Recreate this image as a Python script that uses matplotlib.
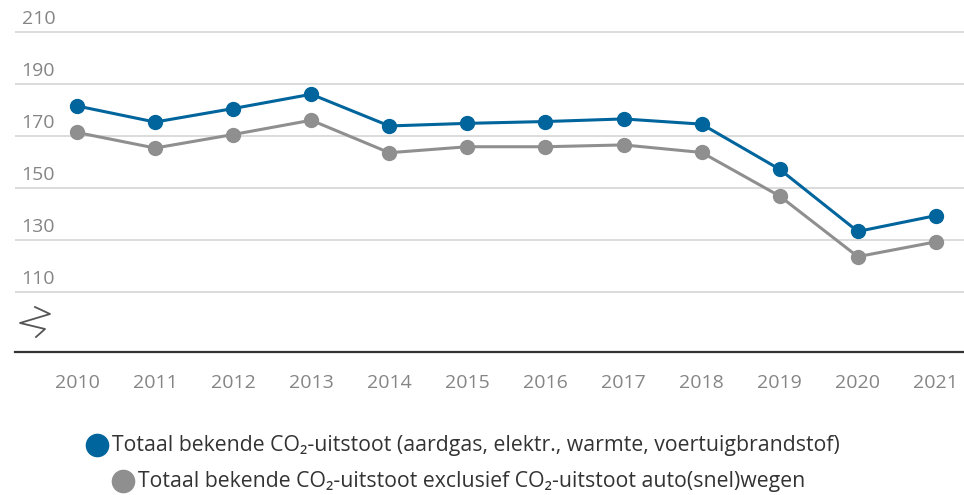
import matplotlib.pyplot as plt
from matplotlib.lines import Line2D
from matplotlib.transforms import blended_transform_factory, offset_copy

plt.rcParams["font.family"] = ["Open Sans", "DejaVu Sans"]

years = [2010, 2011, 2012, 2013, 2014, 2015, 2016, 2017, 2018, 2019, 2020, 2021]
totaal = [181.5, 175.3, 180.5, 186.0, 173.8, 174.8, 175.5, 176.5, 174.5, 157.1, 133.2, 139.3]
exclusief = [171.3, 165.3, 170.5, 176.0, 163.5, 165.8, 165.8, 166.5, 163.6, 146.8, 123.5, 129.2]
y_ticks = [110, 130, 150, 170, 190, 210]

labels = [
    "Totaal bekende CO\u2082-uitstoot (aardgas, elektr., warmte, voertuigbrandstof)",
    "Totaal bekende CO\u2082-uitstoot exclusief CO\u2082-uitstoot auto(snel)wegen",
]
BLUE = "#00659c"
GREY = "#8f8f8f"
W, H = 964, 495

fig = plt.figure(figsize=(W / 100, H / 100), dpi=100)
ax = fig.add_axes([15 / W, 1 - 352 / H, (W - 15) / W, (352 - 28) / H])

for v in y_ticks:
    ax.axhline(v, color="#d9d9d9", linewidth=1.3, zorder=1)

ax.plot(years, exclusief, color=GREY, linewidth=2.2, marker="o", markersize=10, zorder=3)
ax.plot(years, totaal, color=BLUE, linewidth=2.2, marker="o", markersize=10, zorder=4)

ax.set_xlim(2009.206, 2021.36)
ax.set_ylim(86.8, 211.5)
ax.set_xticks(years)
ax.set_xticklabels([str(y) for y in years])
ax.set_yticks([])
ax.tick_params(axis="x", length=0, pad=16, labelsize=14, labelcolor="#858585")

for side in ["left", "right", "top"]:
    ax.spines[side].set_visible(False)
ax.spines["bottom"].set_color("#333333")
ax.spines["bottom"].set_linewidth(1.6)

# y labels sit on top of their gridlines
trans = blended_transform_factory(ax.transAxes, ax.transData)
trans = offset_copy(trans, fig=fig, x=2, y=3, units="points")
for v in y_ticks:
    ax.text(0.004, v, str(v), transform=trans, ha="left", va="bottom",
            fontsize=14, color="#858585")

# axis break zigzag
zx = [35, 50, 20, 45, 36]
zy = [307, 314, 323, 329, 337]
fig.add_artist(Line2D([x / W for x in zx], [1 - y / H for y in zy],
                      transform=fig.transFigure, color="#555555", linewidth=1.3))

# legend
for (mx, my, tx), color, text in zip([(97, 445, 112), (123, 481, 138)], [BLUE, GREY], labels):
    fig.add_artist(Line2D([mx / W], [1 - my / H], transform=fig.transFigure,
                          marker="o", markersize=16, color=color, linestyle=""))
    fig.text(tx / W, 1 - my / H, text, ha="left", va="center",
             fontsize=15.3, color="#333333")

fig.savefig("out.png", dpi=100)
